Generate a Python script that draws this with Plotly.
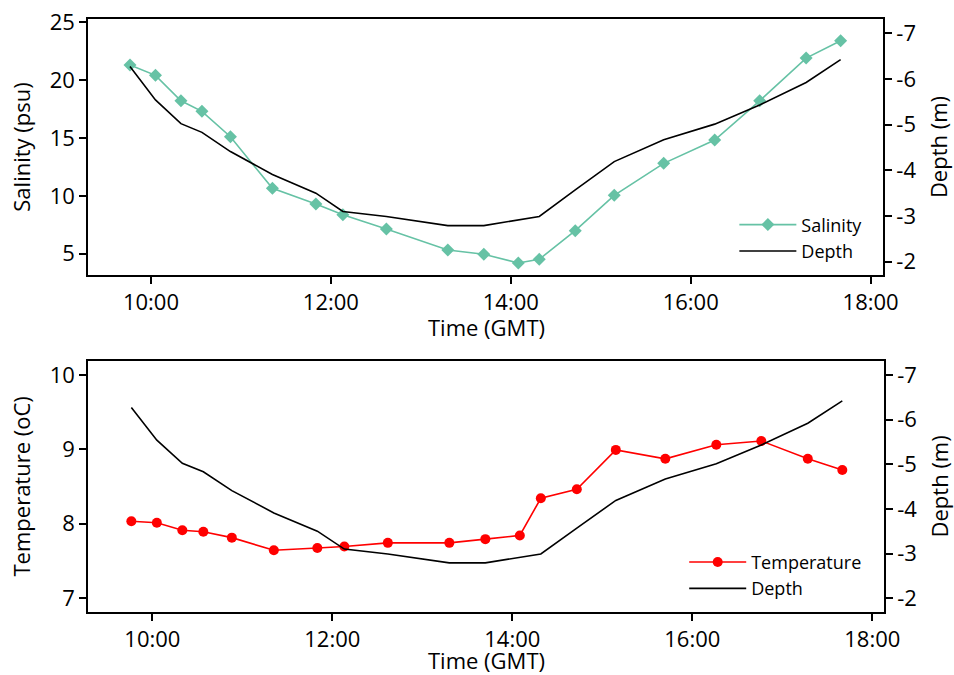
import pandas as pd
import plotly.graph_objects as go

# ---------------- data ----------------
times = ["09:46", "10:03", "10:20", "10:34", "10:53", "11:21", "11:50", "12:08",
         "12:37", "13:18", "13:42", "14:05", "14:19", "14:43", "15:09", "15:42",
         "16:16", "16:46", "17:17", "17:40"]
salinity = [21.31, 20.42, 18.22, 17.31, 15.11, 10.65, 9.30, 8.37,
            7.13, 5.32, 4.95, 4.20, 4.52, 6.99, 10.05, 12.81,
            14.83, 18.22, 21.91, 23.41]
temperature = [8.03, 8.01, 7.91, 7.89, 7.81, 7.64, 7.67, 7.69,
               7.74, 7.74, 7.79, 7.84, 8.34, 8.46, 8.99, 8.87,
               9.06, 9.11, 8.87, 8.72]
depth = [-6.27, -5.54, -5.02, -4.83, -4.41, -3.91, -3.50, -3.10,
         -2.99, -2.79, -2.79, -2.91, -2.99, -3.57, -4.19, -4.67,
         -5.01, -5.43, -5.92, -6.42]

x_tick_labels = ["10:00", "12:00", "14:00", "16:00", "18:00"]
salinity_ticks = [5, 10, 15, 20, 25]
temperature_ticks = [7, 8, 9, 10]
depth_ticks = [-7, -6, -5, -4, -3, -2]
depth_tick_labels = ["-7", "-6", "-5", "-4", "-3", "-2"]

DAY = "2020-01-01 "
t = pd.to_datetime([DAY + s for s in times])
xt = pd.to_datetime([DAY + s for s in x_tick_labels])

TEAL = "#66c2a5"
RED = "#ff0000"
FONT = "Open Sans"

fig = go.Figure()
fig.add_trace(go.Scatter(x=t, y=salinity, name="Salinity", xaxis="x", yaxis="y",
                         mode="lines+markers", legend="legend",
                         line=dict(color=TEAL, width=1.6),
                         marker=dict(symbol="diamond", size=10, color=TEAL)))
fig.add_trace(go.Scatter(x=t, y=depth, name="Depth", xaxis="x", yaxis="y2",
                         mode="lines", legend="legend",
                         line=dict(color="black", width=1.6)))
fig.add_trace(go.Scatter(x=t, y=temperature, name="Temperature", xaxis="x2", yaxis="y3",
                         mode="lines+markers", legend="legend2",
                         line=dict(color=RED, width=1.6),
                         marker=dict(symbol="circle", size=10, color=RED)))
fig.add_trace(go.Scatter(x=t, y=depth, name="Depth", xaxis="x2", yaxis="y4",
                         mode="lines", legend="legend2",
                         line=dict(color="black", width=1.6)))

axis_common = dict(showline=True, linecolor="black", linewidth=1.5, ticks="outside",
                   ticklen=7, tickwidth=1.5, tickcolor="black", showgrid=False,
                   zeroline=False, automargin=False,
                   tickfont=dict(family=FONT, size=22, color="black"))
title_font = dict(family=FONT, size=22, color="black")

top_dom = [0.5683, 1.0]
bot_dom = [0.0, 0.4238]

fig.update_layout(
    width=954, height=675,
    margin=dict(l=88, r=70, t=19, b=63),
    paper_bgcolor="white", plot_bgcolor="white",
    font=dict(family=FONT, color="black"),
    showlegend=True,
    xaxis=dict(**axis_common, domain=[0, 0.999], anchor="y", mirror=True, type="date",
               range=[DAY + "09:18:00", DAY + "18:08:24"],
               tickvals=xt, ticktext=x_tick_labels),
    yaxis=dict(**axis_common, domain=top_dom, anchor="x", range=[3.16, 25.29],
               tickvals=salinity_ticks,
               title=dict(text="Salinity (psu)", font=title_font, standoff=13)),
    yaxis2=dict(**axis_common, overlaying="y", side="right", anchor="x",
                range=[-1.71, -7.31], tickvals=depth_ticks, ticktext=depth_tick_labels,
                title=dict(text="Depth (m)", font=title_font, standoff=16)),
    xaxis2=dict(**axis_common, domain=[0, 1.0], anchor="y3", mirror=True, type="date",
                range=[DAY + "09:17:06", DAY + "18:07:48"],
                tickvals=xt, ticktext=x_tick_labels),
    yaxis3=dict(**axis_common, domain=bot_dom, anchor="x2", range=[6.81, 10.19],
                tickvals=temperature_ticks,
                title=dict(text="Temperature (oC)", font=title_font, standoff=13)),
    yaxis4=dict(**axis_common, overlaying="y3", side="right", anchor="x2",
                range=[-1.69, -7.32], tickvals=depth_ticks, ticktext=depth_tick_labels,
                title=dict(text="Depth (m)", font=title_font, standoff=16)),
    legend=dict(x=0.812, y=0.684, xanchor="left", yanchor="top",
                bgcolor="rgba(0,0,0,0)", borderwidth=0, itemwidth=57,
                font=dict(family=FONT, size=18, color="black")),
    legend2=dict(x=0.749, y=0.115, xanchor="left", yanchor="top",
                 bgcolor="rgba(0,0,0,0)", borderwidth=0, itemwidth=57,
                 font=dict(family=FONT, size=18, color="black")),
    annotations=[
        dict(text="Time (GMT)", xref="paper", yref="paper", x=0.5, y=0.4806,
             xanchor="center", yanchor="middle", showarrow=False, font=title_font),
        dict(text="Time (GMT)", xref="paper", yref="paper", x=0.5, y=-0.0809,
             xanchor="center", yanchor="middle", showarrow=False, font=title_font),
    ],
)

fig.write_html("out.html")
